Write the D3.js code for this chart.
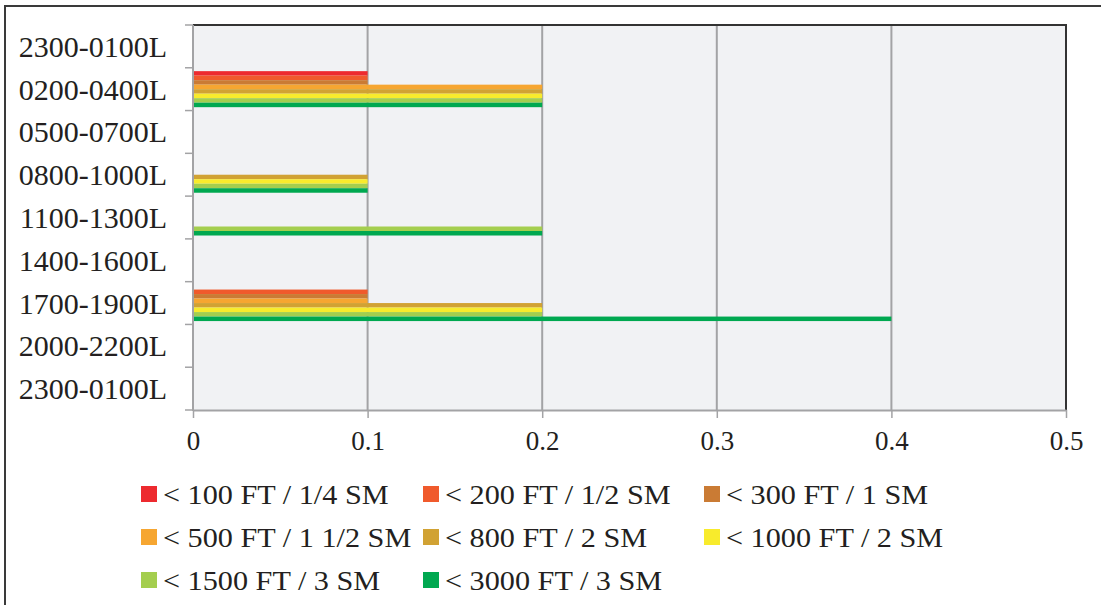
<!DOCTYPE html>
<html>
<head>
<meta charset="utf-8">
<script src="https://cdn.jsdelivr.net/npm/d3@7"></script>
<style>
  html, body { margin: 0; padding: 0; background: #fff; }
  svg { display: block; }
  text { font-family: "Liberation Serif", "Times New Roman", serif; fill: #231f20; }
</style>
</head>
<body>
<svg id="chart" width="1101" height="605"></svg>
<script>
// Time-of-day bins (local), top to bottom
const categories = ["2300-0100L", "0200-0400L", "0500-0700L", "0800-1000L", "1100-1300L",
                    "1400-1600L", "1700-1900L", "2000-2200L", "2300-0100L"];

// Ceiling / visibility thresholds
const seriesNames = ["< 100 FT / 1/4 SM", "< 200 FT / 1/2 SM", "< 300 FT / 1 SM",
                     "< 500 FT / 1 1/2 SM", "< 800 FT / 2 SM", "< 1000 FT / 2 SM",
                     "< 1500 FT / 3 SM", "< 3000 FT / 3 SM"];
const seriesColors = ["#ed2a2f", "#f05a2c", "#ca7b34", "#f6a631", "#d1a233", "#f8eb2c",
                      "#a4ce4e", "#00a850"];

// Values per bin, one array per threshold
const lt100FT  = [0, 0.1, 0, 0,   0,   0, 0,   0, 0];
const lt200FT  = [0, 0.1, 0, 0,   0,   0, 0.1, 0, 0];
const lt300FT  = [0, 0.1, 0, 0,   0,   0, 0.1, 0, 0];
const lt500FT  = [0, 0.2, 0, 0,   0,   0, 0.1, 0, 0];
const lt800FT  = [0, 0.2, 0, 0.1, 0,   0, 0.2, 0, 0];
const lt1000FT = [0, 0.2, 0, 0.1, 0,   0, 0.2, 0, 0];
const lt1500FT = [0, 0.2, 0, 0.1, 0.2, 0, 0.2, 0, 0];
const lt3000FT = [0, 0.2, 0, 0.1, 0.2, 0, 0.4, 0, 0];
const seriesValues = [lt100FT, lt200FT, lt300FT, lt500FT, lt800FT, lt1000FT, lt1500FT, lt3000FT];

const xTickValues = [0, 0.1, 0.2, 0.3, 0.4, 0.5];
const xTickLabels = ["0", "0.1", "0.2", "0.3", "0.4", "0.5"];

const svg = d3.select("#chart");

// Chart frame
svg.append("rect")
  .attr("x", 5).attr("y", 6).attr("width", 1200).attr("height", 700)
  .attr("fill", "#fff").attr("stroke", "#3a3a3a").attr("stroke-width", 2);

const plot = { left: 193, right: 1066, top: 25, bottom: 410 };

const x = d3.scaleLinear().domain([0, 0.5]).range([plot.left, plot.right]);
const y = d3.scaleBand().domain(d3.range(categories.length))
  .range([plot.top, plot.bottom]).paddingInner(0).paddingOuter(0);
const ySeries = d3.scaleBand().domain(d3.range(seriesNames.length))
  .range([0, y.bandwidth()]).paddingInner(0).paddingOuter(0.75);

// Plot background
svg.append("rect")
  .attr("x", plot.left).attr("y", plot.top)
  .attr("width", plot.right - plot.left).attr("height", plot.bottom - plot.top)
  .attr("fill", "#f1f2f4");

// Vertical gridlines
svg.append("g").selectAll("line")
  .data(xTickValues.filter(v => v > 0 && v < 0.5))
  .join("line")
  .attr("x1", d => x(d)).attr("x2", d => x(d))
  .attr("y1", plot.top).attr("y2", plot.bottom)
  .attr("stroke", "#a3a3a5").attr("stroke-width", 2);

// Bars
const rows = [];
seriesValues.forEach((vals, s) => vals.forEach((v, c) => {
  if (v > 0) rows.push({ s, c, v });
}));
svg.append("g").selectAll("rect")
  .data(rows)
  .join("rect")
  .attr("x", x(0))
  .attr("y", d => y(d.c) + ySeries(d.s))
  .attr("width", d => x(d.v) - x(0))
  .attr("height", ySeries.bandwidth())
  .attr("fill", d => seriesColors[d.s]);

// Top and right border of the plot area
svg.append("path")
  .attr("d", `M${plot.left},${plot.top}H${plot.right}V${plot.bottom}`)
  .attr("fill", "none").attr("stroke", "#333").attr("stroke-width", 2);

// X axis
const xAxis = svg.append("g")
  .attr("transform", `translate(0,${plot.bottom})`)
  .call(d3.axisBottom(x).tickValues(xTickValues)
    .tickFormat((d, i) => xTickLabels[i]).tickSizeInner(8).tickSizeOuter(0).tickPadding(13));
xAxis.select(".domain").attr("stroke", "#a3a3a5").attr("stroke-width", 2);
xAxis.selectAll(".tick line").attr("stroke", "#a3a3a5").attr("stroke-width", 1.5);
xAxis.selectAll(".tick text").attr("font-size", 27).attr("fill", "#231f20")
  .style("font-family", "'Liberation Serif', 'Times New Roman', serif");

// Y axis: ticks sit on the bin boundaries
const yAxisG = svg.append("g");
yAxisG.append("line")
  .attr("x1", plot.left).attr("x2", plot.left)
  .attr("y1", plot.top).attr("y2", plot.bottom + 1)
  .attr("stroke", "#a3a3a5").attr("stroke-width", 2);
const boundaries = d3.range(categories.length + 1);
yAxisG.selectAll("line.tick")
  .data(boundaries)
  .join("line")
  .attr("class", "tick")
  .attr("x1", plot.left - 8).attr("x2", plot.left)
  .attr("y1", d => d < categories.length ? y(d) : plot.bottom)
  .attr("y2", d => d < categories.length ? y(d) : plot.bottom)
  .attr("stroke", "#a3a3a5").attr("stroke-width", 1.5);
yAxisG.selectAll("text")
  .data(categories)
  .join("text")
  .attr("x", 167)
  .attr("y", (d, i) => y(i) + y.bandwidth() / 2)
  .attr("dy", "0.35em")
  .attr("text-anchor", "end")
  .attr("font-size", 30)
  .text(d => d);

// Legend: three columns, filled row by row
const legend = svg.append("g");
const colX = [141, 423, 704];
const rowY = [494, 537, 580];
seriesNames.forEach((name, i) => {
  const cx = colX[i % 3], cy = rowY[Math.floor(i / 3)];
  legend.append("rect")
    .attr("x", cx).attr("y", cy - 8).attr("width", 16).attr("height", 16)
    .attr("fill", seriesColors[i]);
  legend.append("text")
    .attr("transform", `translate(${cx + 22},${cy + 10}) scale(1.12,1)`)
    .attr("font-size", 27)
    .text(name);
});
</script>
</body>
</html>
